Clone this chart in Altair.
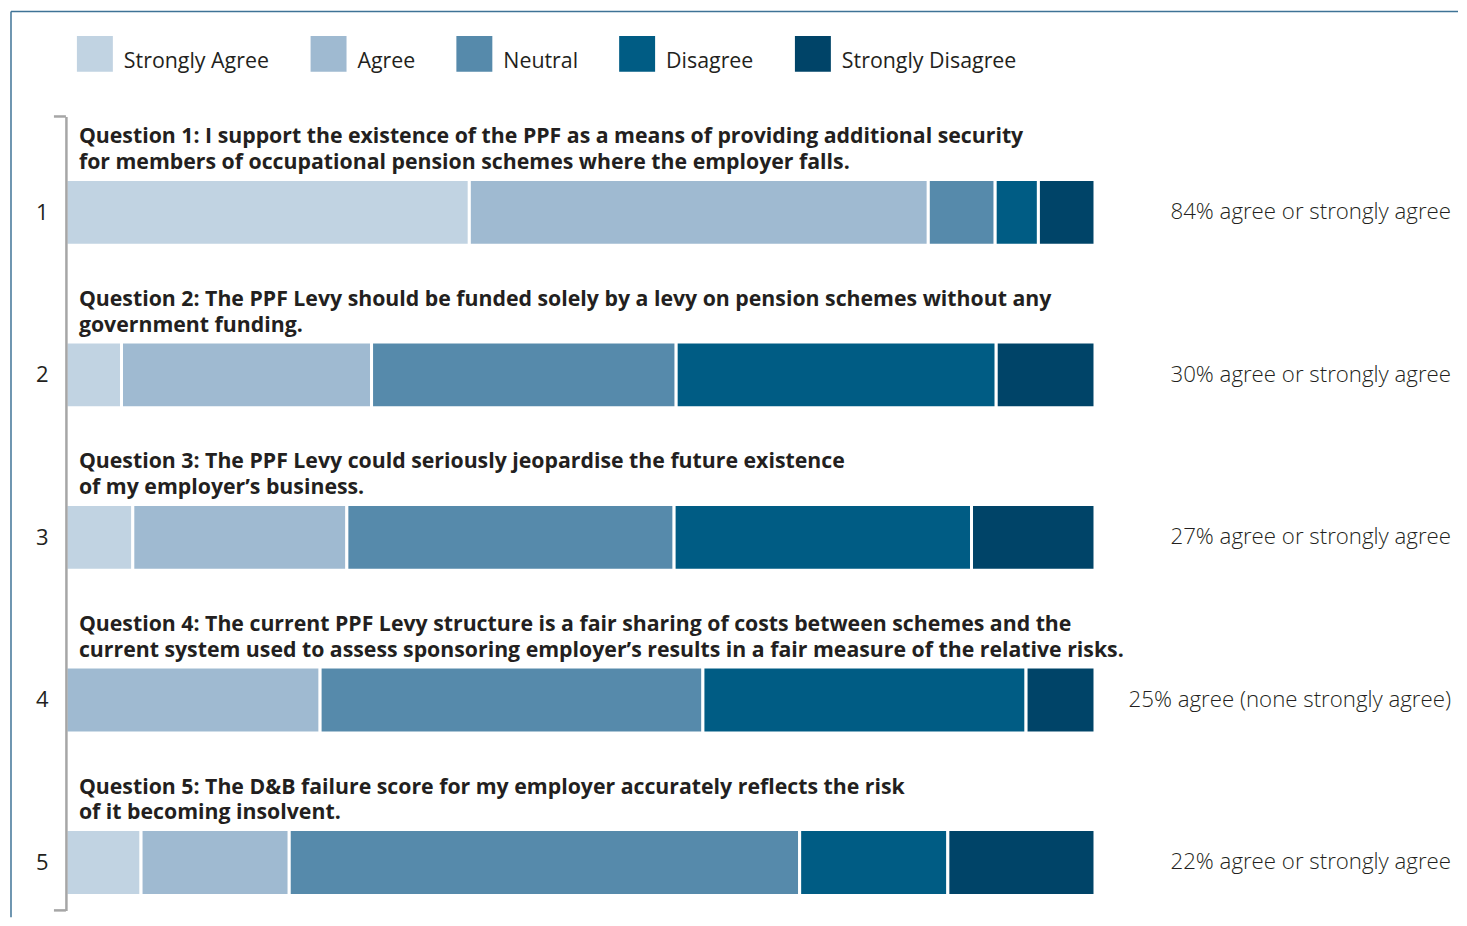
import altair as alt
import pandas as pd

# ---- data ----
categories = ["Strongly Agree", "Agree", "Neutral", "Disagree", "Strongly Disagree"]
colors = ["#c1d3e2", "#9fbad1", "#568aab", "#005c84", "#004468"]
rows = [1, 2, 3, 4, 5]
questions = [
    "Question 1: I support the existence of the PPF as a means of providing additional security\nfor members of occupational pension schemes where the employer falls.",
    "Question 2: The PPF Levy should be funded solely by a levy on pension schemes without any\ngovernment funding.",
    "Question 3: The PPF Levy could seriously jeopardise the future existence\nof my employer\u2019s business.",
    "Question 4: The current PPF Levy structure is a fair sharing of costs between schemes and the\ncurrent system used to assess sponsoring employer\u2019s results in a fair measure of the relative risks.",
    "Question 5: The D&B failure score for my employer accurately reflects the risk\nof it becoming insolvent.",
]
summaries = [
    "84% agree or strongly agree",
    "30% agree or strongly agree",
    "27% agree or strongly agree",
    "25% agree (none strongly agree)",
    "22% agree or strongly agree",
]
strongly_agree = [39.2, 5.4, 6.5, 0.0, 7.3]
agree = [44.6, 24.3, 20.8, 24.7, 14.4]
neutral = [6.5, 29.6, 31.8, 37.2, 49.6]
disagree = [4.2, 31.1, 28.9, 31.4, 14.4]
strongly_disagree = [5.5, 9.6, 12.0, 6.7, 14.3]

series = [strongly_agree, agree, neutral, disagree, strongly_disagree]

# ---- build tables ----
recs = []
for i, r in enumerate(rows):
    start = 0.0
    for cat, vals in zip(categories, series):
        v = vals[i]
        if v > 0:
            recs.append({"row": r, "answer": cat, "start": start, "end": start + v})
        start += v
bars_df = pd.DataFrame(recs)
text_df = pd.DataFrame({"row": rows, "question": questions, "summary": summaries})

W, H = 1387, 795
XMAX = 100 * W / 1030.5
Y0, Y1 = 0.41, 5.295
ends_df = pd.DataFrame({"yend": [Y0, Y1]})

FONT = "Open Sans"
TXT = "#231f20"

yscale = alt.Scale(domain=[Y0, Y1], reverse=True, nice=False, zero=False, padding=0)
xscale = alt.Scale(domain=[0, XMAX], nice=False, zero=True, padding=0)

bars = alt.Chart(bars_df).mark_bar(orient="horizontal", size=66, stroke="white", strokeWidth=3).encode(
    y=alt.Y("row:Q", scale=yscale,
            axis=alt.Axis(values=rows, ticks=False, grid=False, domainColor="#a6a6a6", domainWidth=2.5,
                          labelFontSize=22, labelColor=TXT, labelPadding=18, title=None, labelFont=FONT,
                          labelAngle=0, format="d", zindex=1, labelBaseline="middle")),
    x=alt.X("start:Q", scale=xscale, axis=None),
    x2="end:Q",
    color=alt.Color("answer:N", scale=alt.Scale(domain=categories, range=colors),
                    legend=alt.Legend(orient="none", legendX=11, legendY=-81, direction="horizontal",
                                      title=None, symbolType="square", symbolSize=1296, symbolStrokeWidth=0,
                                      symbolOpacity=1, labelFontSize=21.4, labelFont=FONT, labelColor=TXT,
                                      labelOffset=11, columnPadding=41, labelLimit=400,
                                      labelBaseline="line-top")),
)

qtext = alt.Chart(text_df).mark_text(align="left", baseline="alphabetic", dx=13, dy=-69, fontSize=21.3,
                                     fontWeight="bold", lineBreak="\n", lineHeight=26, font=FONT,
                                     color=TXT).encode(
    x=alt.datum(0), y=alt.Y("row:Q", scale=yscale), text="question:N")

stext = alt.Chart(text_df).mark_text(align="right", baseline="middle", fontSize=22.3, font=FONT,
                                     fontWeight=300, color=TXT).encode(
    x=alt.datum(XMAX), y=alt.Y("row:Q", scale=yscale), text="summary:N")

bracket = alt.Chart(ends_df).mark_rule(color="#a6a6a6", strokeWidth=2.5).encode(
    y=alt.Y("yend:Q", scale=yscale), x=alt.value(-12), x2=alt.value(0))

frame_top = alt.Chart(ends_df.head(1)).mark_rule(color="#3f7396", strokeWidth=1.5).encode(
    x=alt.value(-55), x2=alt.value(1394), y=alt.value(-105))
frame_left = alt.Chart(ends_df.head(1)).mark_rule(color="#3f7396", strokeWidth=1.5).encode(
    x=alt.value(-55), y=alt.value(-105), y2=alt.value(802))

chart = alt.layer(frame_top, frame_left, bars, bracket, qtext, stext).properties(
    width=W, height=H, padding={"left": 2, "top": 2, "right": 0, "bottom": 0}, background="white"
).configure(view=alt.ViewConfig(stroke=None), style={"guide-label": {"lineHeight": 15.5}})

chart.save("out.html", embed_options={"renderer": "svg", "actions": False})
